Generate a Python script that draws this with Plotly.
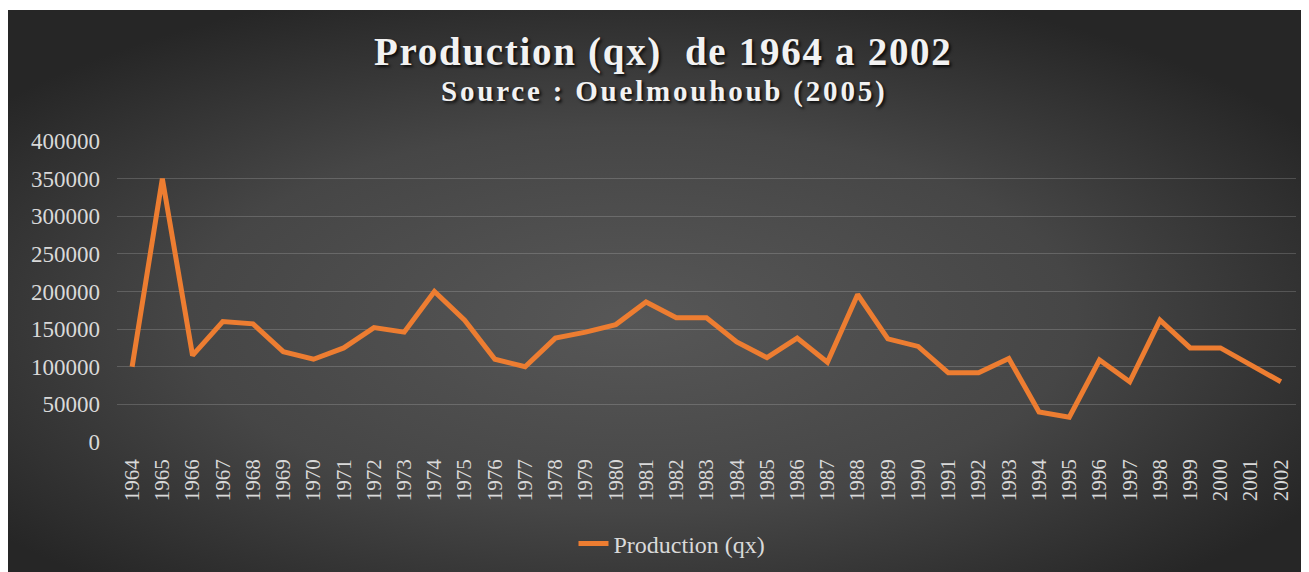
import base64
import plotly.graph_objects as go

years = [str(y) for y in range(1964, 2003)]
production = [100000, 350000, 115000, 160000, 157000, 120000, 110000, 125000, 152000, 146000,
              200000, 162000, 110000, 100000, 138000, 146000, 156000, 186000, 165000, 165000,
              133000, 112000, 138000, 106000, 196000, 137000, 127000, 92000, 92000, 111000,
              40000, 33000, 109000, 80000, 162000, 125000, 125000, 102000, 80000]
y_ticks = [0, 50000, 100000, 150000, 200000, 250000, 300000, 350000, 400000]

title_text = "Production (qx)  de 1964 a 2002"
subtitle_text = "Source : Ouelmouhoub (2005)"
series_name = "Production (qx)"

# page has an 8px body margin; figure coords = page coords - 8
W, H = 1301, 564
ml, mr, mt, mb = 109, 13, 133, 130
pw, ph = W - ml - mr, H - mt - mb


def py(pix):
    """figure pixel row -> paper y"""
    return (mt + ph - pix) / ph


def px(pix):
    """figure pixel column -> paper x"""
    return (pix - ml) / pw


svg = ('<svg xmlns="http://www.w3.org/2000/svg" viewBox="0 0 100 100" preserveAspectRatio="none">'
       '<defs><radialGradient id="g" cx="48%" cy="55%" r="62%">'
       '<stop offset="0" stop-color="#575757"/><stop offset="0.55" stop-color="#464646"/>'
       '<stop offset="1" stop-color="#262626"/></radialGradient></defs>'
       '<rect x="0" y="0" width="100" height="100" fill="url(#g)"/></svg>')
src = "data:image/svg+xml;base64," + base64.b64encode(svg.encode()).decode()

serif = "Liberation Serif, Times New Roman, serif"
fig = go.Figure()
fig.add_trace(go.Scatter(x=years, y=production, mode="lines", name=series_name,
                         line=dict(color="#ED7D31", width=5)))

cx0, cy0, cx1, cy1 = -1, 2, W, H
fig.add_layout_image(dict(source=src, xref="paper", yref="paper",
                          x=px(cx0), y=py(cy0),
                          sizex=(cx1 - cx0) / pw, sizey=(cy1 - cy0) / ph,
                          xanchor="left", yanchor="top", sizing="stretch", layer="below"))

fig.add_annotation(text='<b><span style="letter-spacing:1.7px">' + title_text + '</span></b>',
                   xref="paper", yref="paper",
                   x=px(655), y=py(44), showarrow=False,
                   font=dict(family=serif, size=39, color="#f2f2f2",
                             shadow="2px 2px 3px rgba(0,0,0,0.8)"),
                   xanchor="center", yanchor="middle")
fig.add_annotation(text='<b><span style="letter-spacing:2.8px">' + subtitle_text + '</span></b>',
                   xref="paper", yref="paper",
                   x=px(656), y=py(83), showarrow=False,
                   font=dict(family=serif, size=29, color="#f2f2f2",
                             shadow="2px 2px 3px rgba(0,0,0,0.8)"),
                   xanchor="center", yanchor="middle")

fig.update_layout(
    width=W, height=H,
    margin=dict(l=ml, r=mr, t=mt, b=mb, autoexpand=False),
    paper_bgcolor="white", plot_bgcolor="rgba(0,0,0,0)",
    font=dict(family=serif, color="#d9d9d9"),
    showlegend=True,
    legend=dict(orientation="h", x=px(664), xanchor="center",
                y=py(536), yanchor="middle",
                font=dict(family=serif, size=24, color="#d9d9d9"),
                bgcolor="rgba(0,0,0,0)"),
    xaxis=dict(type="category", range=[-0.5, len(years) - 0.5], tickangle=-90,
               showgrid=False, showline=False, zeroline=False, automargin=False,
               tickfont=dict(family=serif, size=21, color="#d9d9d9"), ticks="",
               ticklabelstandoff=12),
    yaxis=dict(range=[0, 400000], tickvals=y_ticks, tickformat="d", showgrid=True,
               gridcolor="rgba(255,255,255,0.17)", gridwidth=1.3, zeroline=False, showline=False,
               automargin=False,
               tickfont=dict(family=serif, size=23, color="#d9d9d9"), ticks="",
               ticklabelstandoff=16),
)
fig.write_html("out.html")
